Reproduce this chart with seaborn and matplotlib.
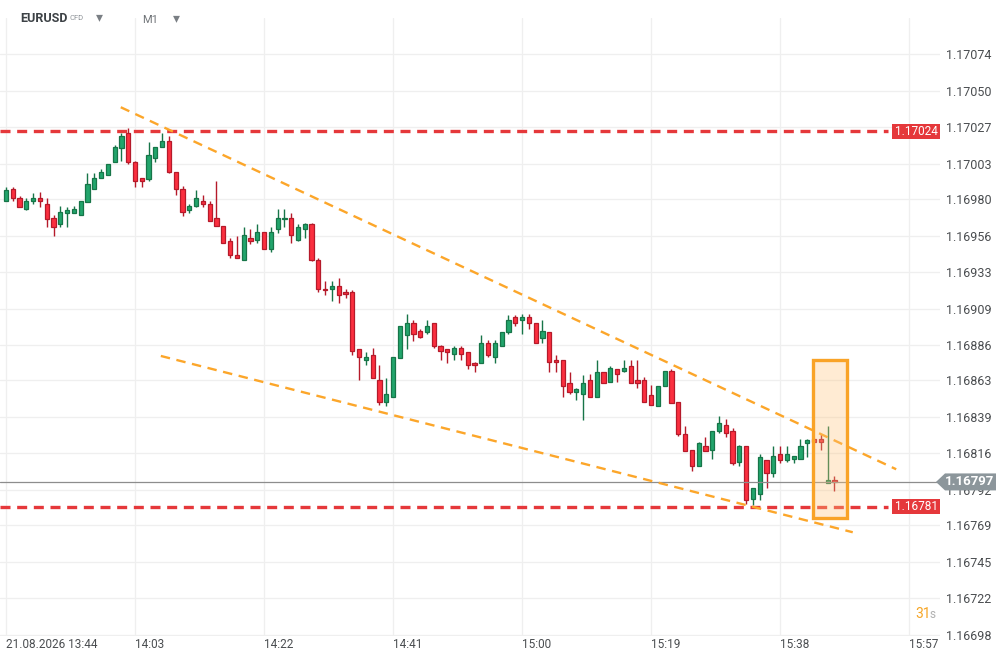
import numpy as np
import pandas as pd
import matplotlib
matplotlib.use("Agg")
import matplotlib.pyplot as plt
from matplotlib.patches import Rectangle, Polygon
import matplotlib.transforms as mtransforms
import seaborn as sns

# ---------------------------------------------------------
# Data: EURUSD M1 candles, 21.08.2026 from 13:44
# ---------------------------------------------------------
start_time = "2026-08-21 13:44"

opens = [
    1.16979, 1.16987, 1.16981, 1.16974, 1.16979, 1.16981, 1.16977, 1.16968, 1.16964, 1.16971,
    1.16971, 1.16970, 1.16978, 1.16987, 1.16994, 1.16996, 1.17004, 1.17013, 1.17023, 1.17004,
    1.16994, 1.16993, 1.17007, 1.17014, 1.17018, 1.16998, 1.16987, 1.16973, 1.16976, 1.16979,
    1.16977, 1.16968, 1.16963, 1.16953, 1.16944, 1.16941, 1.16955, 1.16954, 1.16959, 1.16948,
    1.16961, 1.16967, 1.16968, 1.16954, 1.16961, 1.16964, 1.16941, 1.16922, 1.16922, 1.16924,
    1.16920, 1.16920, 1.16883, 1.16876, 1.16879, 1.16863, 1.16849, 1.16852, 1.16877, 1.16892,
    1.16900, 1.16895, 1.16894, 1.16900, 1.16885, 1.16883, 1.16880, 1.16884, 1.16881, 1.16874,
    1.16874, 1.16887, 1.16878, 1.16885, 1.16894, 1.16904, 1.16902, 1.16904, 1.16900, 1.16890,
    1.16894, 1.16876, 1.16876, 1.16861, 1.16855, 1.16854, 1.16863, 1.16852, 1.16868, 1.16862,
    1.16870, 1.16869, 1.16872, 1.16863, 1.16863, 1.16853, 1.16846, 1.16859, 1.16869, 1.16849,
    1.16828, 1.16818, 1.16807, 1.16820, 1.16818, 1.16830, 1.16834, 1.16830, 1.16810, 1.16820,
    1.16786, 1.16789, 1.16811, 1.16803, 1.16815, 1.16811, 1.16812, 1.16812, 1.16822, 1.16825,
    1.16825, 1.16796, 1.16798,
]
highs = [
    1.16988, 1.16988, 1.16982, 1.16981, 1.16984, 1.16985, 1.16981, 1.16970, 1.16976, 1.16975,
    1.16976, 1.16979, 1.16997, 1.16997, 1.17000, 1.17003, 1.17015, 1.17023, 1.17026, 1.17005,
    1.16994, 1.17017, 1.17014, 1.17023, 1.17021, 1.16998, 1.16989, 1.16977, 1.16986, 1.16983,
    1.16979, 1.16992, 1.16963, 1.16955, 1.16956, 1.16962, 1.16961, 1.16964, 1.16959, 1.16962,
    1.16974, 1.16974, 1.16971, 1.16964, 1.16965, 1.16965, 1.16942, 1.16927, 1.16927, 1.16929,
    1.16922, 1.16921, 1.16883, 1.16881, 1.16884, 1.16873, 1.16864, 1.16878, 1.16898, 1.16906,
    1.16902, 1.16896, 1.16902, 1.16900, 1.16886, 1.16883, 1.16885, 1.16885, 1.16881, 1.16875,
    1.16892, 1.16889, 1.16889, 1.16894, 1.16905, 1.16905, 1.16906, 1.16906, 1.16900, 1.16902,
    1.16894, 1.16879, 1.16876, 1.16868, 1.16858, 1.16866, 1.16867, 1.16876, 1.16868, 1.16872,
    1.16870, 1.16876, 1.16876, 1.16876, 1.16865, 1.16860, 1.16859, 1.16869, 1.16870, 1.16849,
    1.16833, 1.16818, 1.16823, 1.16826, 1.16830, 1.16840, 1.16838, 1.16832, 1.16821, 1.16820,
    1.16793, 1.16815, 1.16811, 1.16820, 1.16820, 1.16820, 1.16814, 1.16825, 1.16825, 1.16825,
    1.16828, 1.16833, 1.16801,
]
lows = [
    1.16979, 1.16979, 1.16975, 1.16973, 1.16977, 1.16975, 1.16962, 1.16956, 1.16962, 1.16962,
    1.16971, 1.16970, 1.16978, 1.16987, 1.16994, 1.16996, 1.17004, 1.17005, 1.17003, 1.16988,
    1.16988, 1.16992, 1.17004, 1.17014, 1.16997, 1.16983, 1.16969, 1.16971, 1.16975, 1.16975,
    1.16966, 1.16963, 1.16952, 1.16942, 1.16942, 1.16941, 1.16951, 1.16952, 1.16948, 1.16946,
    1.16958, 1.16962, 1.16952, 1.16953, 1.16955, 1.16940, 1.16920, 1.16918, 1.16914, 1.16913,
    1.16916, 1.16879, 1.16863, 1.16873, 1.16864, 1.16847, 1.16846, 1.16852, 1.16877, 1.16883,
    1.16888, 1.16890, 1.16893, 1.16884, 1.16876, 1.16874, 1.16876, 1.16876, 1.16870, 1.16868,
    1.16874, 1.16878, 1.16874, 1.16885, 1.16893, 1.16898, 1.16893, 1.16896, 1.16887, 1.16887,
    1.16868, 1.16868, 1.16852, 1.16854, 1.16850, 1.16837, 1.16852, 1.16852, 1.16861, 1.16862,
    1.16862, 1.16868, 1.16861, 1.16858, 1.16849, 1.16847, 1.16846, 1.16859, 1.16848, 1.16827,
    1.16817, 1.16804, 1.16807, 1.16817, 1.16812, 1.16829, 1.16826, 1.16808, 1.16807, 1.16783,
    1.16782, 1.16785, 1.16793, 1.16800, 1.16809, 1.16810, 1.16809, 1.16812, 1.16813, 1.16823,
    1.16818, 1.16796, 1.16791,
]
closes = [
    1.16986, 1.16981, 1.16975, 1.16979, 1.16981, 1.16979, 1.16967, 1.16962, 1.16972, 1.16973,
    1.16974, 1.16979, 1.16990, 1.16994, 1.16998, 1.17003, 1.17014, 1.17021, 1.17004, 1.16992,
    1.16992, 1.17009, 1.17014, 1.17018, 1.16998, 1.16987, 1.16972, 1.16976, 1.16981, 1.16977,
    1.16966, 1.16963, 1.16952, 1.16944, 1.16942, 1.16957, 1.16953, 1.16959, 1.16948, 1.16959,
    1.16968, 1.16968, 1.16957, 1.16962, 1.16964, 1.16941, 1.16922, 1.16921, 1.16924, 1.16918,
    1.16919, 1.16882, 1.16878, 1.16878, 1.16864, 1.16849, 1.16854, 1.16878, 1.16898, 1.16900,
    1.16893, 1.16891, 1.16898, 1.16885, 1.16882, 1.16881, 1.16884, 1.16880, 1.16873, 1.16873,
    1.16887, 1.16879, 1.16887, 1.16894, 1.16902, 1.16900, 1.16904, 1.16900, 1.16887, 1.16895,
    1.16875, 1.16875, 1.16859, 1.16855, 1.16857, 1.16861, 1.16852, 1.16868, 1.16861, 1.16871,
    1.16867, 1.16871, 1.16861, 1.16861, 1.16849, 1.16847, 1.16859, 1.16869, 1.16848, 1.16828,
    1.16817, 1.16807, 1.16822, 1.16817, 1.16830, 1.16835, 1.16829, 1.16809, 1.16820, 1.16785,
    1.16793, 1.16813, 1.16803, 1.16814, 1.16811, 1.16815, 1.16814, 1.16820, 1.16824, 1.16823,
    1.16823, 1.16798, 1.16797,
]

# axis labels
x_tick_times = ["13:44", "14:03", "14:22", "14:41", "15:00", "15:19", "15:38", "15:57"]
x_tick_labels = ["21.08.2026 13:44", "14:03", "14:22", "14:41", "15:00", "15:19", "15:38", "15:57"]
y_tick_labels = ["1.17074", "1.17050", "1.17027", "1.17003", "1.16980", "1.16956", "1.16933",
                 "1.16909", "1.16886", "1.16863", "1.16839", "1.16816", "1.16792", "1.16769",
                 "1.16745", "1.16722", "1.16698"]

# drawn annotations (minutes from start, price)
levels = [1.17024, 1.16781]
current_price = 1.16797
upper_t = [16.9, 131.1]
upper_p = [1.170397, 1.168052]
lower_t = [22.8, 124.7]
lower_p = [1.168786, 1.167644]
box_t = [118.9, 123.9]
box_p = [1.167737, 1.168757]

GREEN = "#22a56c"
GREEN_EDGE = "#177548"
RED = "#fb2f3f"
RED_EDGE = "#b51a2a"
ORANGE = "#fca62a"
LEVEL_RED = "#e5383b"
GRID = "#efefef"
TEXT = "#4a4d50"

# ---------------------------------------------------------
# Build frame
# ---------------------------------------------------------
start = pd.Timestamp(start_time)
df = pd.DataFrame({
    "time": pd.date_range(start, periods=len(opens), freq="min"),
    "open": opens, "high": highs, "low": lows, "close": closes,
})
df["t"] = (df["time"] - start).dt.total_seconds() / 60
df["up"] = df["close"] >= df["open"]
df["body_lo"] = df[["open", "close"]].min(axis=1)
df["body_h"] = (df["close"] - df["open"]).abs().clip(lower=0.000012)

tick_t = [(pd.Timestamp("2026-08-21 " + s) - start).total_seconds() / 60 for s in x_tick_times]

# ---------------------------------------------------------
# Plot
# ---------------------------------------------------------
sns.set_theme(style="white")
plt.rcParams["font.family"] = ["Roboto", "DejaVu Sans"]

W, H = 1007, 659
fig = plt.figure(figsize=(W / 100, H / 100), dpi=100)
ax = fig.add_axes([0, 23 / H, 940 / W, 618 / H])
ax.set_xlim(-0.884, 137.55)
ax.set_ylim(1.166972, 1.170975)

# candles
for is_up, fill, edge in [(True, GREEN, GREEN_EDGE), (False, RED, RED_EDGE)]:
    sub = df[df["up"] == is_up]
    ax.vlines(sub["t"], sub["low"], sub["high"], color=edge, lw=1.0, zorder=3)
    ax.bar(sub["t"], sub["body_h"], bottom=sub["body_lo"], width=0.62,
           color=fill, edgecolor=edge, linewidth=0.9, zorder=4)

# support / resistance levels
ax.hlines(levels, -0.884, 129.9, colors=LEVEL_RED, lw=2.4,
          linestyles=(0, (3.0, 2.0)), zorder=5)
ax.axhline(current_price, color="#8d8d8d", lw=0.9, zorder=5)

# descending channel lines
trend = pd.DataFrame({
    "t": upper_t + lower_t,
    "price": upper_p + lower_p,
    "line": ["upper", "upper", "lower", "lower"],
})
sns.lineplot(data=trend, x="t", y="price", units="line", estimator=None,
             color=ORANGE, lw=1.7, linestyle=(0, (4.0, 2.8)), ax=ax, zorder=6)

# highlight box
ax.add_patch(Rectangle((box_t[0], box_p[0]), box_t[1] - box_t[0], box_p[1] - box_p[0],
                       facecolor="#ffc47a", alpha=0.33, edgecolor="none", zorder=7))
ax.add_patch(Rectangle((box_t[0], box_p[0]), box_t[1] - box_t[0], box_p[1] - box_p[0],
                       facecolor="none", edgecolor="#f9a327", lw=2.4, zorder=8))

# axes styling
ax.set_xticks(tick_t)
ax.set_xticklabels(x_tick_labels, ha="left")
ax.set_yticks([float(s) for s in y_tick_labels])
ax.set_yticklabels(y_tick_labels)
ax.yaxis.tick_right()
ax.tick_params(axis="y", length=0, pad=4.5, labelsize=9, labelcolor=TEXT)
ax.tick_params(axis="x", length=0, pad=1.5, labelsize=8.5, labelcolor=TEXT)
ax.grid(True, color=GRID, lw=0.9)
ax.set_xlabel("")
ax.set_ylabel("")
sns.despine(ax=ax, left=True, bottom=True, right=True, top=True)

# price tags on the right (display pixels)
for lv in levels:
    yd = ax.transData.transform((0, lv))[1]
    fig.patches.append(Rectangle((892, yd - 7.5), 48, 15, transform=None,
                                 facecolor=LEVEL_RED, edgecolor="none", zorder=10))
    fig.text(916 / W, yd / H, f"{lv:.5f}", color="white", fontsize=8.5,
             ha="center", va="center", zorder=11)

yc = ax.transData.transform((0, current_price))[1]
fig.patches.append(Polygon([(936, yc), (945, yc + 8.5), (996, yc + 8.5), (996, yc - 8.5),
                            (945, yc - 8.5)], closed=True, transform=None,
                           facecolor="#8c969b", edgecolor="none", zorder=10))
fig.text(969 / W, yc / H, f"{current_price:.5f}", color="white", fontsize=9.5,
         fontweight="bold", ha="center", va="center", zorder=11)

# header
fig.text(20 / W, 1 - 18 / H, "EURUSD", fontsize=9, fontweight="bold", color="#3d4246", va="center")
fig.text(69 / W, 1 - 18 / H, "CFD", fontsize=5.5, color="#8e9398", va="center")
fig.text(96 / W, 1 - 17 / H, "▾", fontsize=10, color="#7a7f84", va="center",
         family=["DejaVu Sans"])
fig.text(142 / W, 1 - 20 / H, "M1", fontsize=8, color="#707478", va="center")
fig.text(173 / W, 1 - 18 / H, "▾", fontsize=10, color="#7a7f84", va="center",
         family=["DejaVu Sans"])

# countdown
fig.text(915 / W, 1 - 614 / H, "31", fontsize=10, color="#f6a524", va="center")
fig.text(929 / W, 1 - 615 / H, "s", fontsize=8.5, color="#b0b0b0", va="center")

fig.savefig("out.png", dpi=100)
